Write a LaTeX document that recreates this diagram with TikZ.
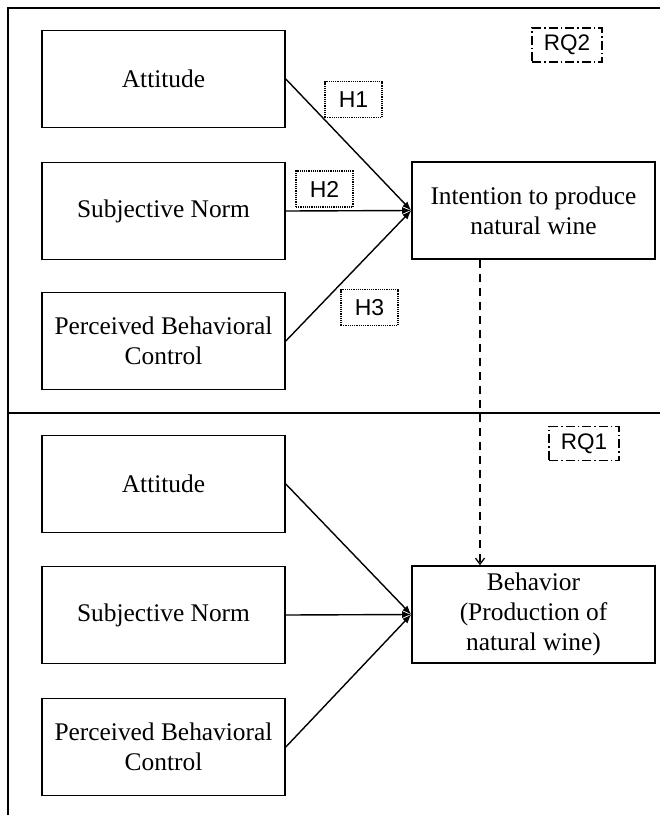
\documentclass[tikz,border=0pt]{standalone}
\usepackage{fontspec}
\setmainfont{Liberation Serif}
\newfontfamily\hfont{Liberation Sans}
\usetikzlibrary{arrows.meta}
\tikzset{
  cbox/.style={draw, line width=1.6pt, minimum width=243pt, minimum height=97pt, inner sep=0pt, align=center,
    font=\fontsize{25.4}{30}\selectfont},
  hbox/.style={draw, densely dotted, line width=1.2pt, minimum width=57pt, minimum height=36pt, inner sep=0pt,
    font=\hfont\fontsize{23}{24}\selectfont},
  rqbox/.style={draw, line width=1.3pt, dash pattern=on 9pt off 3pt on 1.5pt off 3pt, minimum width=70pt, minimum height=34pt, inner sep=0pt,
    font=\hfont\fontsize{22.5}{24}\selectfont},
  frameline/.style={line width=1.4pt},
  path/.style={line width=1.4pt, -{Latex[length=9pt,width=7pt]}},
  dpath/.style={line width=1.3pt, dash pattern=on 8pt off 6pt, -{Straight Barb[length=6pt,width=9pt]}}
}
\begin{document}
\begin{tikzpicture}[x=1pt,y=-1pt]
\useasboundingbox (0,0) rectangle (660,815);
% frame
\coordinate (ftl) at (8,8);
\coordinate (ftr) at (660,8);
\coordinate (fbl) at (8,815);
\coordinate (dl) at (8,413);
\coordinate (dr) at (660,413);
\draw[frameline] (ftr) -- (ftl) -- (fbl);
\draw[frameline] (dl) -- (dr);
% upper part
\node[cbox] (a1) at (163.5,79) {Attitude};
\node[cbox] (s1) at (163.5,211) {Subjective Norm};
\node[cbox] (p1) at (163.5,341) {Perceived Behavioral\\Control};
\node[cbox] (int) at (533.5,210.5) {Intention to produce\\natural wine};
\node[hbox] (h1) at (353.5,99.5) {H1};
\node[hbox] (h2) at (324.5,189) {H2};
\node[hbox] (h3) at (369.5,307.5) {H3};
\node[rqbox] (rq2) at (567,45) {RQ2};
\draw[path] (a1.east) -- (int.west);
\draw[path] (s1.east) -- (int.west);
\draw[path] (p1.east) -- (int.west);
% lower part
\node[cbox] (a2) at (163.5,484) {Attitude};
\node[cbox] (s2) at (163.5,615) {Subjective Norm};
\node[cbox] (p2) at (163.5,747) {Perceived Behavioral\\Control};
\node[cbox] (beh) at (533.5,614.5) {Behavior\\(Production of\\natural wine)};
\node[rqbox] (rq1) at (584,443.5) {RQ1};
\draw[path] (a2.east) -- (beh.west);
\draw[path] (s2.east) -- (beh.west);
\draw[path] (p2.east) -- (beh.west);
% dashed link
\draw[dpath] (int.south -| 480,0) -- (beh.north -| 480,0);
\end{tikzpicture}
\end{document}
